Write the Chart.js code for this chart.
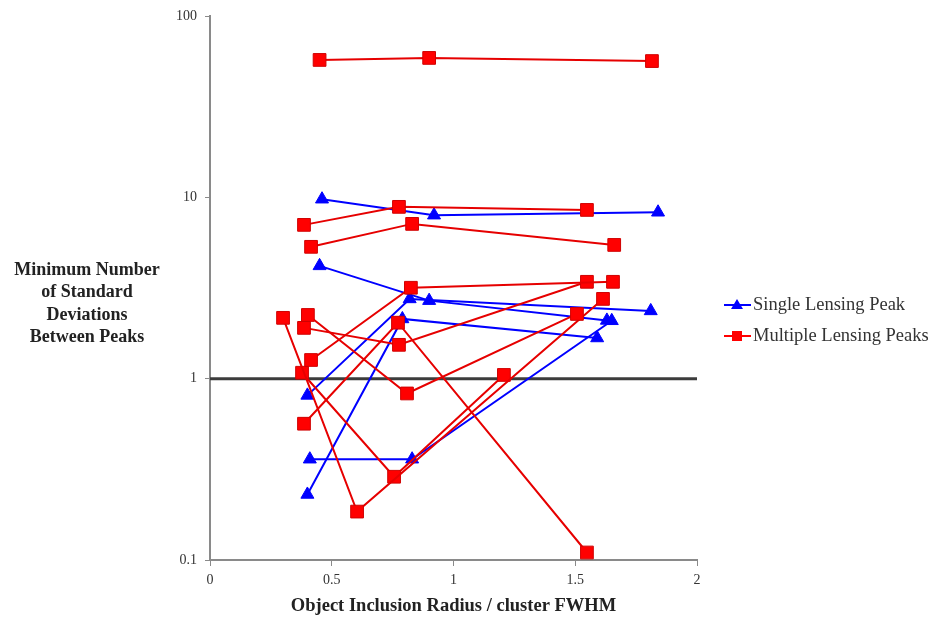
<!DOCTYPE html>
<html>
<head>
<meta charset="utf-8">
<script src="https://cdn.jsdelivr.net/npm/chart.js@4"></script>
<style>
  html, body { margin: 0; padding: 0; background: #fff; }
  #wrap { width: 937px; height: 618px; position: relative; }
</style>
</head>
<body>
<div id="wrap"><canvas id="chart" width="937" height="618"></canvas></div>
<script>
// single lensing peak runs (x = radius / FWHM, y = min sigma)
const singleX = [
  [0.46, 0.92, 1.84],
  [0.45, 0.90, 1.63],
  [0.40, 0.82, 1.81],
  [0.41, 0.83, 1.65],
  [0.40, 0.79, 1.59]
];
const singleY = [
  [9.8, 8.0, 8.3],
  [4.2, 2.7, 2.1],
  [0.81, 2.76, 2.37],
  [0.36, 0.36, 2.09],
  [0.23, 2.14, 1.68]
];

// multiple lensing peak runs
const multiX = [
  [0.45, 0.90, 1.815],
  [0.386, 0.776, 1.548],
  [0.415, 0.83, 1.66],
  [0.415, 0.825, 1.655],
  [0.386, 0.776, 1.548],
  [0.386, 0.772, 1.548],
  [0.402, 0.809, 1.507],
  [0.30, 0.604, 1.614],
  [0.378, 0.756, 1.207]
];
const multiY = [
  [57.5, 59, 56.7],
  [7.07, 8.89, 8.55],
  [5.35, 7.16, 5.48],
  [1.27, 3.18, 3.43],
  [1.91, 1.54, 3.43],
  [0.565, 2.04, 0.11],
  [2.25, 0.83, 2.28],
  [2.17, 0.185, 2.76],
  [1.08, 0.288, 1.05]
];

const xTicks = [0, 0.5, 1, 1.5, 2];
const yTicks = [0.1, 1, 10, 100];
const thresholdY = 1;

const yTitleLines = ["Minimum Number", "of Standard", "Deviations", "Between Peaks"];
const legendLabels = ["Single Lensing Peak", "Multiple Lensing Peaks"];

const serif = "'Liberation Serif', 'DejaVu Serif', serif";
const BLUE = "#0000ff";
const RED = "#ff0000";

function toPoints(xs, ys) {
  return xs.map((x, i) => ({ x, y: ys[i] }));
}

const datasets = [];

datasets.push({
  label: "threshold",
  data: [{ x: xTicks[0], y: thresholdY }, { x: xTicks[xTicks.length - 1], y: thresholdY }],
  borderColor: "#3c3c3c",
  borderWidth: 3,
  pointRadius: 0,
  order: 3
});

singleX.forEach((xs, i) => {
  datasets.push({
    label: legendLabels[0],
    data: toPoints(xs, singleY[i]),
    borderColor: BLUE,
    backgroundColor: BLUE,
    borderWidth: 2,
    pointStyle: "triangle",
    pointRadius: 7.5,
    pointBorderWidth: 1,
    order: 2
  });
});

multiX.forEach((xs, i) => {
  datasets.push({
    label: legendLabels[1],
    data: toPoints(xs, multiY[i]),
    borderColor: "#e60000",
    backgroundColor: RED,
    pointBorderColor: "#d00000",
    borderWidth: 2,
    pointStyle: "rect",
    pointRadius: 9,
    pointBorderWidth: 1,
    order: 1
  });
});

// horizontal multi-line y title and the legend on the right
const sideText = {
  id: "sideText",
  afterDraw(chart) {
    const ctx = chart.ctx;
    ctx.save();
    ctx.fillStyle = "#222";
    ctx.font = "bold 18px " + serif;
    ctx.textAlign = "center";
    ctx.textBaseline = "middle";
    yTitleLines.forEach((t, i) => ctx.fillText(t, 87, 270 + i * 22.5));

    const items = [
      { text: legendLabels[0], color: BLUE, style: "triangle", y: 305 },
      { text: legendLabels[1], color: RED, style: "rect", y: 336 }
    ];
    items.forEach(it => {
      ctx.strokeStyle = it.color;
      ctx.lineWidth = 2;
      ctx.beginPath();
      ctx.moveTo(724, it.y);
      ctx.lineTo(751, it.y);
      ctx.stroke();
      ctx.fillStyle = it.color;
      if (it.style === "rect") {
        ctx.fillRect(732, it.y - 5, 10, 10);
      } else {
        ctx.beginPath();
        ctx.moveTo(737, it.y - 6);
        ctx.lineTo(743, it.y + 4);
        ctx.lineTo(731, it.y + 4);
        ctx.closePath();
        ctx.fill();
      }
      ctx.fillStyle = "#333";
      ctx.font = "18.5px " + serif;
      ctx.textAlign = "left";
      ctx.fillText(it.text, 753, it.y);
    });
    ctx.restore();
  }
};

new Chart(document.getElementById("chart"), {
  type: "line",
  data: { datasets },
  plugins: [sideText],
  options: {
    responsive: false,
    animation: false,
    layout: { padding: { left: 0, right: 240, top: 16, bottom: 0 } },
    plugins: {
      legend: { display: false },
      tooltip: { enabled: false }
    },
    scales: {
      x: {
        type: "linear",
        min: 0,
        max: 2,
        afterBuildTicks: s => { s.ticks = xTicks.map(v => ({ value: v })); },
        afterFit: s => { s.height = 58; },
        grid: { drawOnChartArea: false, color: "#8a8a8a", tickLength: 6, lineWidth: 1 },
        border: { color: "#8a8a8a", width: 2 },
        ticks: {
          color: "#333",
          font: { family: serif, size: 14 },
          padding: 6,
          maxRotation: 0,
          callback: v => String(v)
        },
        title: {
          display: true,
          text: "Object Inclusion Radius / cluster FWHM",
          color: "#222",
          font: { family: serif, size: 18.5, weight: "bold" },
          padding: { top: 2, bottom: 1 }
        }
      },
      y: {
        type: "logarithmic",
        min: 0.1,
        max: 100,
        afterBuildTicks: s => { s.ticks = yTicks.map(v => ({ value: v })); },
        afterFit: s => { s.width = 210; },
        grid: { drawOnChartArea: false, color: "#8a8a8a", tickLength: 5, lineWidth: 1 },
        border: { color: "#8a8a8a", width: 2 },
        ticks: {
          color: "#333",
          font: { family: serif, size: 14 },
          padding: 8,
          callback: v => String(v)
        }
      }
    }
  }
});
</script>
</body>
</html>
